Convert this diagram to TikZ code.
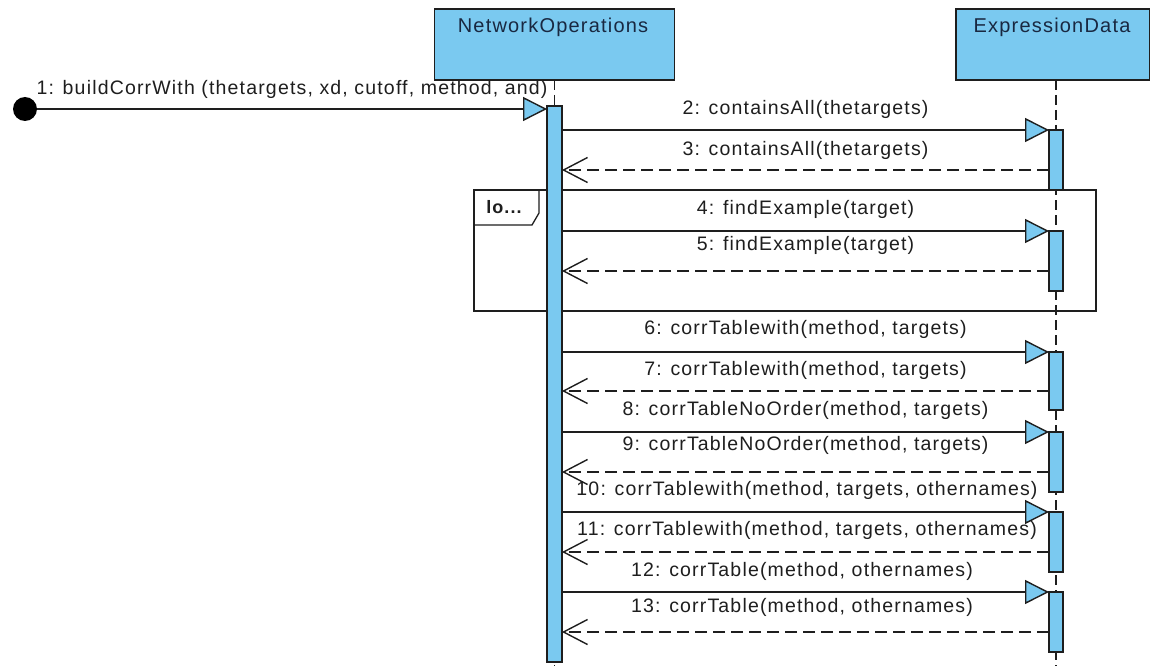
\documentclass[tikz,border=0pt]{standalone}
\usepackage{fontspec}
\setmainfont{Liberation Sans}[LetterSpace=6]
\usetikzlibrary{arrows.meta}
\definecolor{boxblue}{RGB}{122,201,240}
\definecolor{ink}{RGB}{30,30,30}
\definecolor{navy}{RGB}{25,40,65}
\begin{document}
\begin{tikzpicture}[x=1pt,y=-1pt,
  every node/.style={inner sep=0pt,outer sep=0pt},
  headbox/.style={draw=ink,fill=boxblue,line width=1.3pt,minimum width=240pt,minimum height=71pt},
  bar/.style={draw=ink,fill=boxblue,line width=1.2pt,minimum width=14pt,anchor=north},
  lifeline/.style={draw=ink,line width=1.2pt,dash pattern=on 10pt off 5pt},
  call/.style={draw=ink,line width=1.4pt,-{Triangle[length=24pt,width=24pt,fill=boxblue]}},
  reply/.style={draw=ink,line width=1.4pt,dash pattern=on 12pt off 6pt,-{Straight Barb[length=24pt,width=25pt]}},
  lbl/.style={font=\fontsize{19.5}{21}\selectfont,text=ink,text height=14pt,text depth=0pt},
  headname/.style={font=\fontsize{20}{22}\selectfont,text=navy,text height=14.3pt,text depth=0pt},
  frame/.style={draw=ink,line width=1.3pt},
]
\useasboundingbox[fill=white] (0,0) rectangle (1150,666);

% message 1 label (drawn beneath the head box)
\node[lbl] (l1) at (292,88) {1: buildCorrWith (thetargets, xd, cutoff, method, and)};

% heads
\node[headbox] (NO) at (554.5,44.5) {};
\node[headname] (NOt) at (553,25) {NetworkOperations};
\node[headbox,minimum width=194pt] (ED) at (1053,44.5) {};
\node[headname] (EDt) at (1052,25) {ExpressionData};

% lifelines
\coordinate (NOend) at (554.5,666);
\coordinate (EDend) at (1056,666);
\draw[lifeline] (NO.south -| NOend) -- (NOend);
\draw[lifeline] (ED.south -| EDend) -- (EDend);

% loop frame
\node[frame,minimum width=622pt,minimum height=121pt,anchor=north west] (loop) at (474,190) {};
\draw[frame] (loop.north west) ++(65,0) -- ++(0,23) -- ++(-7,12) -- ++(-58,0);
\node[font=\fontsize{18}{20}\selectfont\bfseries,text=ink,text height=13pt,text depth=0pt] (looplbl) at (504,207) {lo...};

% activation bars
\node[bar,minimum width=15pt,minimum height=556pt] (NObar) at (554.5,106) {};
\node[bar,minimum height=60pt] (EDa) at (1056,130) {};
\node[bar,minimum height=60pt] (EDb) at (1056,231) {};
\node[bar,minimum height=58pt] (EDc) at (1056,352) {};
\node[bar,minimum height=60pt] (EDd) at (1056,432) {};
\node[bar,minimum height=60pt] (EDe) at (1056,512) {};
\node[bar,minimum height=60pt] (EDf) at (1056,592) {};

% found message
\node[circle,fill=black,minimum size=24pt] (start) at (25,109) {};
\draw[call] (start.east) -- (NObar.west |- start);

% reply coordinates
\coordinate (r3) at (1049,170);
\coordinate (r5) at (1049,271);
\coordinate (r7) at (1049,391);
\coordinate (r9) at (1049,472);
\coordinate (r11) at (1049,552);
\coordinate (r13) at (1049,632);

% calls
\draw[call] (NObar.east |- EDa.north) -- (EDa.north west);
\draw[call] (NObar.east |- EDb.north) -- (EDb.north west);
\draw[call] (NObar.east |- EDc.north) -- (EDc.north west);
\draw[call] (NObar.east |- EDd.north) -- (EDd.north west);
\draw[call] (NObar.east |- EDe.north) -- (EDe.north west);
\draw[call] (NObar.east |- EDf.north) -- (EDf.north west);

% replies
\draw[reply] (r3) -- (NObar.east |- r3);
\draw[reply] (r5) -- (NObar.east |- r5);
\draw[reply] (r7) -- (NObar.east |- r7);
\draw[reply] (r9) -- (NObar.east |- r9);
\draw[reply] (r11) -- (NObar.east |- r11);
\draw[reply] (r13) -- (NObar.east |- r13);

% labels
\node[lbl] (l2) at (805.5,107) {2: containsAll(thetargets)};
\node[lbl] (l3) at (805.5,148) {3: containsAll(thetargets)};
\node[lbl] (l4) at (805.5,207) {4: findExample(target)};
\node[lbl] (l5) at (805.5,243) {5: findExample(target)};
\node[lbl] (l6) at (805.5,327) {6: corrTablewith(method, targets)};
\node[lbl] (l7) at (805.5,368) {7: corrTablewith(method, targets)};
\node[lbl] (l8) at (805.5,408) {8: corrTableNoOrder(method, targets)};
\node[lbl] (l9) at (805.5,443) {9: corrTableNoOrder(method, targets)};
\node[lbl] (l10) at (807,488) {10: corrTablewith(method, targets, othernames)};
\node[lbl] (l11) at (807,528) {11: corrTablewith(method, targets, othernames)};
\node[lbl] (l12) at (802,569) {12: corrTable(method, othernames)};
\node[lbl] (l13) at (802,605) {13: corrTable(method, othernames)};
\end{tikzpicture}
\end{document}
